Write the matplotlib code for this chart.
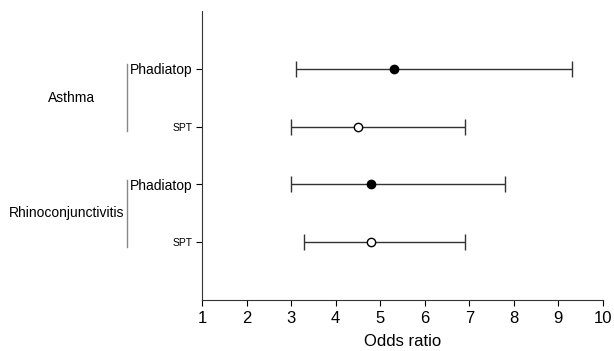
import matplotlib
matplotlib.use("Agg")
import matplotlib.pyplot as plt
import matplotlib.transforms as mtransforms

plt.rcParams['font.family'] = ['Liberation Sans', 'DejaVu Sans']

# data
groups = ["Asthma", "Rhinoconjunctivitis"]
tests = ["Phadiatop", "SPT", "Phadiatop", "SPT"]
odds = [5.3, 4.5, 4.8, 4.8]
ci_low = [3.1, 3.0, 3.0, 3.3]
ci_high = [9.3, 6.9, 7.8, 6.9]
filled = [True, False, True, False]

fig = plt.figure(figsize=(6.14, 3.51), dpi=100)
ax = fig.add_axes([0.329, 0.145, 0.653, 0.824])

ypos = [1, 2, 3, 4]
for y, o, lo, hi, f in zip(ypos, odds, ci_low, ci_high, filled):
    ax.errorbar(o, y, xerr=[[o - lo], [hi - o]], fmt='o', color='#333333',
                ecolor='#333333', elinewidth=1, capsize=5.5, capthick=1,
                markersize=6, markerfacecolor='black' if f else 'white',
                markeredgecolor='black', markeredgewidth=1)

ax.set_xlim(1, 10)
ax.set_ylim(5, 0)
ax.set_xticks(range(1, 11))
ax.tick_params(axis='x', labelsize=12, length=4, direction='out')
ax.set_xlabel("Odds ratio", fontsize=12, labelpad=6)

ax.set_yticks(ypos)
ax.set_yticklabels(tests)
for lab in ax.get_yticklabels():
    lab.set_fontsize(10 if lab.get_text() == "Phadiatop" else 7.5)
ax.tick_params(axis='y', length=4, pad=3)

for s in ['top', 'right']:
    ax.spines[s].set_visible(False)
for s in ['left', 'bottom']:
    ax.spines[s].set_color('#333333')

# group brackets and labels
trans = mtransforms.blended_transform_factory(ax.transAxes, ax.transData)
label_x = [-0.325, -0.337]
for i, g in enumerate(groups):
    y0, y1 = ypos[2 * i] - 0.08, ypos[2 * i + 1] + 0.08
    ax.plot([-0.187, -0.187], [y0, y1], color='#888888', lw=1,
            transform=trans, clip_on=False)
    ax.text(label_x[i], (ypos[2 * i] + ypos[2 * i + 1]) / 2, g, fontsize=10,
            ha='center', va='center', transform=trans)

fig.savefig("out.png", dpi=100)
